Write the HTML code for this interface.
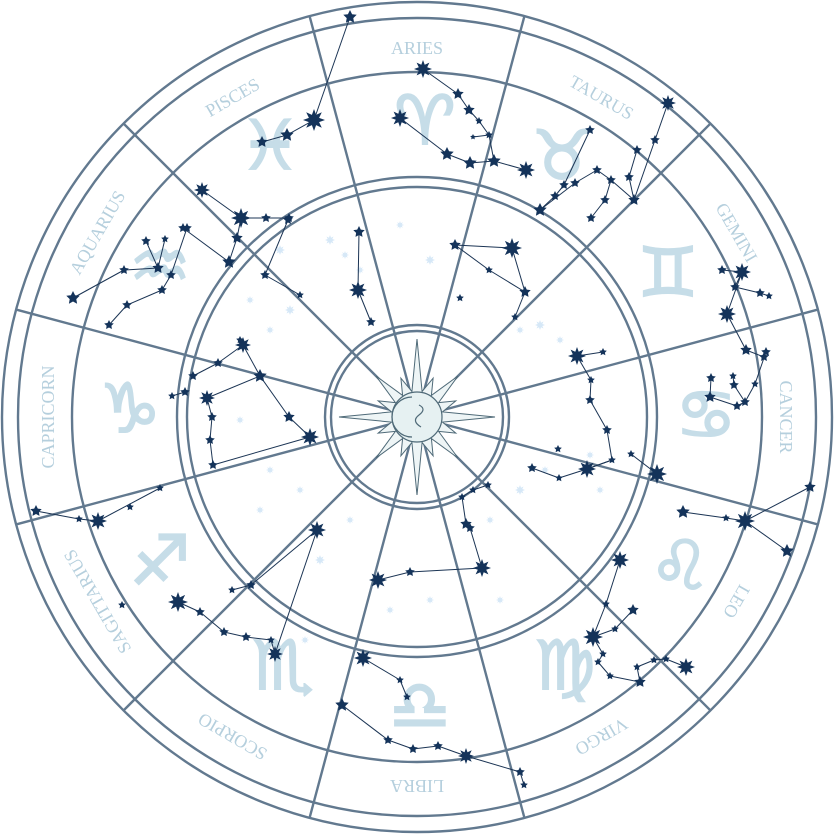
<!DOCTYPE html>
<html><head><meta charset="utf-8"><style>
html,body{margin:0;padding:0;background:#fff;width:834px;height:834px;overflow:hidden}
svg{display:block}
</style></head><body>
<svg id="wheel" width="834" height="834" viewBox="0 0 834 834" xmlns="http://www.w3.org/2000/svg">
<g id="faint"></g>
<g id="rings" fill="none" stroke="#62798f" stroke-width="2.4"></g>
<g id="labels"></g>
<g id="glyphs"></g>
<g id="stars"></g>
<g id="sun"></g>
</svg>
<script>
const signs=["ARIES","TAURUS","GEMINI","CANCER","LEO","VIRGO","LIBRA","SCORPIO","SAGITTARIUS","CAPRICORN","AQUARIUS","PISCES"];
const glyphChars=["♈","♉","♊","♋","♌","♍","♎","♏","♐","♑","♒","♓"];
const glyphPos=[[425,120],[562,155],[668,272],[706,414],[680,565],[565,665],[420,705],[283,665],[160,560],[130,408],[160,265],[270,145]];
const constel=[
 {p:[[423,69,8],[458,94,5],[469,110,5],[479,121,3],[473,137,2],[489,135,3],[494,161,6],[526,170,8],[400,118,8],[447,154,6],[470,163,6]],e:[[0,1],[1,2],[2,3],[3,5],[4,5],[5,6],[8,9],[9,10],[10,6],[6,7]]},
 {p:[[350,17,6],[314,120,10],[287,135,6],[262,142,5],[241,218,9],[266,218,4],[289,218,4],[237,238,5],[229,262,6],[202,190,7],[183,228,4]],e:[[0,1],[1,2],[2,3],[4,5],[5,6],[4,7],[7,8],[9,4],[10,8]]},
 {p:[[540,210,6],[575,183,4],[597,170,4],[611,180,4],[605,200,4],[591,218,4],[634,200,5],[668,103,7],[655,140,4],[637,150,4],[629,177,4],[590,130,4],[564,185,4],[555,196,4]],e:[[0,1],[1,2],[2,3],[3,4],[4,5],[3,6],[7,8],[8,6],[9,10],[10,6],[11,12],[12,13],[13,0]]},
 {p:[[722,270,4],[742,272,8],[735,287,4],[760,293,4],[769,296,3],[727,314,8],[746,350,5],[764,357,4]],e:[[0,1],[1,2],[2,3],[3,4],[1,5],[5,6],[6,7]]},
 {p:[[711,378,4],[710,397,5],[734,385,4],[737,406,4],[745,402,4],[733,376,3],[766,352,4],[755,384,3]],e:[[0,1],[1,3],[3,4],[4,2],[2,5],[4,7],[7,6]]},
 {p:[[810,487,5],[745,521,9],[683,512,6],[787,551,6],[726,518,3],[657,474,9],[631,454,3]],e:[[0,1],[1,4],[4,2],[1,3],[5,6]]},
 {p:[[620,560,8],[606,604,3],[593,637,9],[615,629,3],[633,610,5],[603,654,3],[598,662,3],[610,676,3],[640,682,5],[637,667,3],[654,660,3],[666,659,3],[686,667,8]],e:[[0,1],[1,2],[2,3],[3,4],[2,5],[5,6],[6,7],[7,8],[8,9],[9,10],[10,11],[11,12]]},
 {p:[[363,658,8],[342,705,6],[388,740,4],[413,749,4],[438,746,4],[466,756,7],[520,772,4],[524,785,3],[400,680,3],[407,697,3]],e:[[0,8],[8,9],[1,2],[2,3],[3,4],[4,5],[5,6],[6,7]]},
 {p:[[317,530,8],[275,654,7],[251,585,4],[232,590,3],[178,602,9],[200,612,4],[224,632,4],[246,637,4],[271,640,3]],e:[[0,2],[2,3],[0,1],[4,5],[5,6],[6,7],[7,8],[8,1]]},
 {p:[[36,511,5],[79,519,3],[98,521,8],[160,488,3],[130,507,3],[122,605,3]],e:[[0,1],[1,2],[2,3]]},
 {p:[[310,437,8],[289,417,5],[260,376,6],[243,345,7],[207,398,7],[212,417,4],[185,392,4],[172,396,3],[193,376,4],[218,363,4],[213,465,4],[240,340,3],[210,440,4]],e:[[0,1],[1,2],[2,3],[2,4],[4,5],[5,12],[12,10],[6,7],[8,9],[9,3],[10,0]]},
 {p:[[73,298,6],[124,270,4],[146,241,4],[158,268,5],[109,325,4],[127,305,4],[171,275,4],[187,228,4],[162,290,4],[165,239,3]],e:[[0,1],[1,3],[3,2],[4,5],[5,8],[8,6],[6,7],[9,3]]},
 {p:[[455,245,5],[512,248,9],[525,292,5],[515,317,3],[489,270,3],[460,298,3]],e:[[0,1],[1,2],[2,3],[0,4],[4,2]]},
 {p:[[591,380,3],[577,356,8],[603,352,3],[590,400,4],[607,430,4],[612,460,3],[587,469,8],[532,468,4],[559,478,3],[558,449,3]],e:[[0,1],[1,2],[0,3],[3,4],[4,5],[5,6],[7,8],[8,6],[6,5]]},
 {p:[[359,232,5],[358,290,8],[371,322,4],[288,220,4],[265,275,4],[300,295,3]],e:[[0,1],[1,2],[3,4],[4,5]]},
 {p:[[378,580,8],[410,572,4],[482,568,8],[466,524,5],[462,497,3],[473,490,3],[488,485,3],[470,528,4]],e:[[0,1],[1,2],[2,7],[7,3],[3,4],[4,5],[5,6]]}
];
const faintPts=[[330,240,5],[345,255,4],[360,270,4],[400,225,4],[430,260,5],[540,325,5],[560,340,4],[520,330,4],[250,300,4],[270,330,4],[290,310,5],[240,420,4],[270,470,4],[300,490,4],[260,510,4],[320,560,5],[350,520,4],[390,610,4],[430,600,4],[500,600,4],[520,490,5],[545,470,4],[590,455,4],[600,490,4],[490,520,4],[305,640,4],[280,250,5]];
const NS='http://www.w3.org/2000/svg';
const cx=417,cy=417;
function mk(t,a,parent){const e=document.createElementNS(NS,t);for(const k in a)e.setAttribute(k,a[k]);parent.appendChild(e);return e;}
function starPts(x,y,r,n){let s=[];for(let i=0;i<n*2;i++){const rr=i%2?r*0.5:r;const a=Math.PI*i/n-Math.PI/2;s.push((x+rr*Math.cos(a)).toFixed(1)+','+(y+rr*Math.sin(a)).toFixed(1));}return s.join(' ');}
const rings=document.getElementById('rings');
[415,399,345,240,230,92,86].forEach((r,i)=>{const c=mk('circle',{cx:cx,cy:cy,r:r},rings);

});
for(let k=0;k<12;k++){const a=(15+30*k)*Math.PI/180;const dx=Math.sin(a),dy=-Math.cos(a);
const l=mk('line',{x1:cx,y1:cy,x2:cx+dx*415,y2:cy+dy*415},rings);

}
const lab=document.getElementById('labels');
signs.forEach((s,i)=>{const t=mk('text',{x:cx,y:cy-363,'text-anchor':'middle','font-family':'Liberation Serif, serif','font-size':'18','fill':'#b5cfdd',transform:`rotate(${i*30} ${cx} ${cy})`},lab);t.textContent=s;

});
const gl=document.getElementById('glyphs');
glyphChars.forEach((g,i)=>{const t=mk('text',{x:glyphPos[i][0],y:glyphPos[i][1]+24,'text-anchor':'middle','font-family':'DejaVu Sans, sans-serif','font-size':'68','font-weight':'bold','fill':'#c6dde8',stroke:'#c6dde8','stroke-width':'2'},gl);t.textContent=g+'\uFE0E';

});
const fa=document.getElementById('faint');
faintPts.forEach(p=>{const s=mk('polygon',{points:starPts(p[0],p[1],p[2],8),fill:'#d6e8f7'},fa);

});
const st=document.getElementById('stars');
constel.forEach((c,ci)=>{const g=mk('g',{},st);


c.e.forEach(e=>{const a=c.p[e[0]],b=c.p[e[1]];mk('line',{x1:a[0],y1:a[1],x2:b[0],y2:b[1],stroke:'#1b3454','stroke-width':'1'},g);});
c.p.forEach(p=>{const s=mk('polygon',{points:starPts(p[0],p[1],p[2]+1,p[2]>6?8:5),fill:'#14335a'},g);

});});
const sun=document.getElementById('sun');
let rp=[];for(let i=0;i<32;i++){const a=Math.PI*i/16;const r=i%2?26:(i%4==0?(i%8==0?78:58):42);rp.push((cx+r*Math.sin(a)).toFixed(1)+','+(cy-r*Math.cos(a)).toFixed(1));}
mk('polygon',{points:rp.join(' '),fill:'#eef5f6',stroke:'#4f6a78','stroke-width':'1'},sun);
mk('circle',{cx:cx,cy:cy,r:25,fill:'#e6f1f2',stroke:'#4f6a78','stroke-width':'1.2'},sun);
mk('path',{d:`M${cx-5},${cy-20} a20,20 0 0 0 0,40`,fill:'none',stroke:'#4f6a78','stroke-width':'1.2'},sun);
mk('path',{d:`M${cx+2},${cy-12} q8,4 0,10 q-8,6 2,12`,fill:'none',stroke:'#4f6a78','stroke-width':'1.2'},sun);
</script>
</body></html>
